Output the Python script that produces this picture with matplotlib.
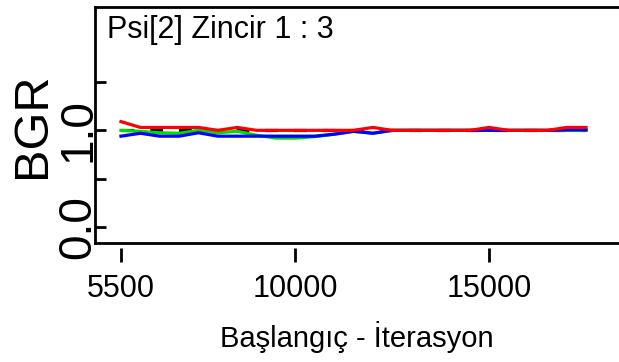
import matplotlib
matplotlib.use("Agg")
import matplotlib.pyplot as plt

plt.rcParams["font.family"] = ["Liberation Sans", "DejaVu Sans"]

# BGR diagnostic for Psi[2], chains 1:3
iterations = [5500, 6000, 6500, 7000, 7500, 8000, 8500, 9000, 9500, 10000,
              10500, 11000, 11500, 12000, 12500, 13000, 13500, 14000, 14500,
              15000, 15500, 16000, 16500, 17000, 17500]
pooled = [1.00, 0.99, 0.975, 0.97, 1.00, 0.975, 0.99, 0.95, 0.92, 0.92,
          0.935, 0.96, 0.99, 0.97, 1.00, 1.00, 1.00, 1.00, 1.00,
          1.00, 1.00, 1.00, 1.00, 1.00, 1.00]
within = [0.94, 0.97, 0.94, 0.94, 0.975, 0.94, 0.94, 0.94, 0.94, 0.94,
          0.94, 0.96, 0.99, 0.97, 1.00, 1.00, 1.00, 1.00, 1.00,
          1.00, 1.00, 1.00, 1.00, 1.005, 1.005]
ratio = [1.09, 1.03, 1.03, 1.03, 1.03, 1.00, 1.03, 1.00, 1.00, 1.00,
         1.00, 1.00, 1.00, 1.03, 1.00, 1.00, 1.00, 1.00, 1.00,
         1.03, 1.00, 1.00, 1.00, 1.03, 1.03]
ref_level = 1.0

W, H = 619, 362
fig = plt.figure(figsize=(W / 100, H / 100), dpi=100)
ax = fig.add_axes([95 / W, (H - 243) / H, (W - 95) / W, 236 / H])

lw = 2.3
ax.plot([iterations[0], iterations[-1]], [ref_level, ref_level], color="black",
        lw=lw, linestyle=(0, (4, 5)))
ax.plot(iterations, pooled, color="#00dd00", lw=lw)
ax.plot(iterations, within, color="#0000ff", lw=lw)
ax.plot(iterations, ratio, color="#ff0000", lw=lw)

ax.set_xlim(4830, 18350)
ax.set_ylim(-0.16, 2.27)

for side in ["left", "top", "bottom"]:
    ax.spines[side].set_linewidth(2)
ax.spines["right"].set_visible(False)

ax.set_yticks([0.0, 0.5, 1.0, 1.5])
ax.set_yticklabels(["0.0", "", "1.0", ""])
ax.tick_params(axis="y", direction="in", length=8, width=2, pad=-4,
               labelsize=33, labelrotation=90)
for t in ax.get_yticklabels():
    t.set_verticalalignment("center")

ax.set_xticks([])
sec = ax.secondary_xaxis(-0.021)
sec.spines["bottom"].set_visible(False)
sec.set_xticks([5500, 10000, 15000])
sec.set_xticklabels(["5500", "10000", "15000"])
sec.tick_params(axis="x", direction="out", length=10, width=2, pad=9,
                labelsize=22)
sec.set_xlabel("Başlangıç - İterasyon", fontsize=21, labelpad=12)

ax.set_ylabel("BGR", fontsize=35, labelpad=1)

ax.text(0.022, 0.965, "Psi[2] Zincir 1 : 3", transform=ax.transAxes,
        fontsize=22, ha="left", va="top")

fig.savefig("out.png", dpi=100)
